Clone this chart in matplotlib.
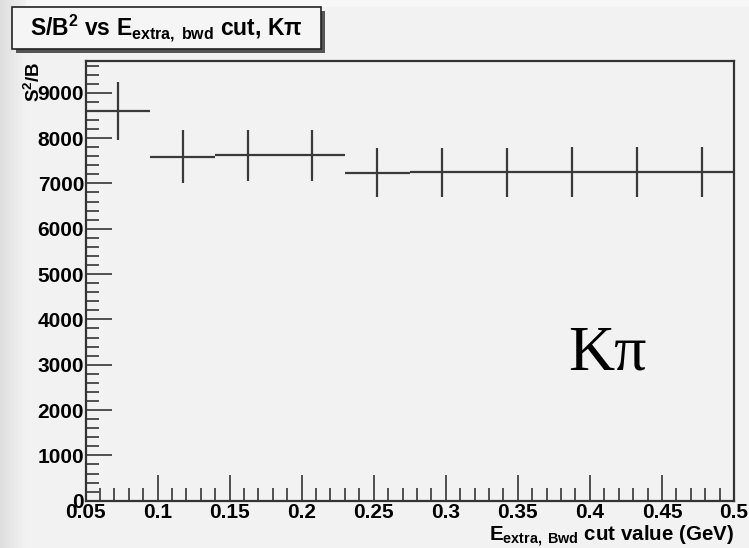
import numpy as np
import matplotlib
matplotlib.use("Agg")
import matplotlib.pyplot as plt
from matplotlib.patches import Rectangle
from matplotlib.ticker import MultipleLocator

# ---- data ----
bin_edges = [0.05, 0.095, 0.14, 0.185, 0.23, 0.275, 0.32, 0.365, 0.41, 0.455, 0.5]
values = [8600, 7590, 7620, 7615, 7236, 7245, 7245, 7252, 7252, 7252]
errors = [643, 578, 567, 567, 537, 537, 537, 550, 550, 550]
x_ticks = [0.05, 0.1, 0.15, 0.2, 0.25, 0.3, 0.35, 0.4, 0.45, 0.5]
x_tick_labels = ["0.05", "0.1", "0.15", "0.2", "0.25", "0.3", "0.35", "0.4", "0.45", "0.5"]
y_ticks = [0, 1000, 2000, 3000, 4000, 5000, 6000, 7000, 8000, 9000]

plt.rcParams['font.family'] = ['Liberation Sans', 'DejaVu Sans']
plt.rcParams['font.weight'] = 'bold'
plt.rcParams['mathtext.fontset'] = 'custom'
plt.rcParams['mathtext.rm'] = 'Liberation Sans:bold'
plt.rcParams['mathtext.bf'] = 'Liberation Sans:bold'
plt.rcParams['mathtext.it'] = 'Liberation Sans:bold'

W, H = 749, 548
BG = '#f2f2f2'
fig = plt.figure(figsize=(W / 100, H / 100), dpi=100, facecolor=BG)

# background decorations: left gradient and lighter top band
bgax = fig.add_axes([0, 0, 1, 1], zorder=-10)
bgax.set_xlim(0, W)
bgax.set_ylim(H, 0)
bgax.axis('off')
grad = np.linspace(0.87, 0.95, 64)[None, :]
bgax.imshow(np.dstack([grad, grad, grad]), extent=[0, 26, H, 0], aspect='auto')
bgax.add_patch(Rectangle((26, 0), W - 26, 7, color='#f7f7f7', lw=0))

# main axes
L, R, B, T = 85.5, 734, 500.7, 60.7
ax = fig.add_axes([L / W, (H - B) / H, (R - L) / W, (B - T) / H])
ax.set_facecolor(BG)

centers = [(bin_edges[i] + bin_edges[i + 1]) / 2 for i in range(len(values))]
halfw = [(bin_edges[i + 1] - bin_edges[i]) / 2 for i in range(len(values))]
ax.errorbar(centers, values, xerr=halfw, yerr=errors, fmt='none',
            ecolor='#3a3a3a', elinewidth=1.6, capsize=0)

ax.set_xlim(0.05, 0.5)
ax.set_ylim(0, 9706)
ax.set_xticks(x_ticks)
ax.set_xticklabels(x_tick_labels)
ax.set_yticks(y_ticks)
ax.xaxis.set_minor_locator(MultipleLocator(0.01))
ax.yaxis.set_minor_locator(MultipleLocator(200))
ax.tick_params(which='major', direction='in', length=19, width=1.3, color='#444444',
               labelsize=15, pad=2)
ax.tick_params(which='minor', direction='in', length=9.5, width=1.3, color='#444444')
ax.tick_params(axis='y', which='both', right=False, pad=1)
ax.tick_params(axis='x', which='both', top=False, pad=2)
for lab in ax.get_xticklabels() + ax.get_yticklabels():
    lab.set_fontweight('bold')
for s in ax.spines.values():
    s.set_linewidth(1.6)
    s.set_color('#333333')

# title box with shadow
bx0, by0, bx1, by1 = 12, 7, 321, 49
bgax.add_patch(Rectangle((bx0 + 4, by0 + 4), bx1 - bx0, by1 - by0, color='#555555', lw=0, zorder=1))
bgax.add_patch(Rectangle((bx0, by0), bx1 - bx0, by1 - by0, facecolor='#f5f5f5',
                         edgecolor='#222222', lw=1.2, zorder=2))
fig.text((bx0 + bx1) / 2 / W, 1 - (by0 + by1) / 2 / H,
         r"S/B$^{2}$ vs E$_{\mathregular{extra,\;bwd}}$ cut, K$\pi$",
         ha='center', va='center', fontsize=16.5, fontweight='bold', zorder=5)

# y label
fig.text(34 / W, 1 - 62 / H, r"S$^{2}$/B", rotation=90, ha='center', va='top',
         fontsize=13.5, fontweight='bold')

# x label
fig.text(734 / W, 1 - 541 / H, r"E$_{\mathregular{extra,\;Bwd}}$ cut value (GeV)",
         ha='right', va='baseline', fontsize=14.8, fontweight='bold')

# K pi annotation
fig.text(568 / W, 1 - 370 / H, "Kπ", ha='left', va='baseline',
         fontsize=46, family=['Liberation Serif', 'DejaVu Serif'], fontweight='normal')

fig.savefig('out.png', dpi=100, facecolor=BG)
